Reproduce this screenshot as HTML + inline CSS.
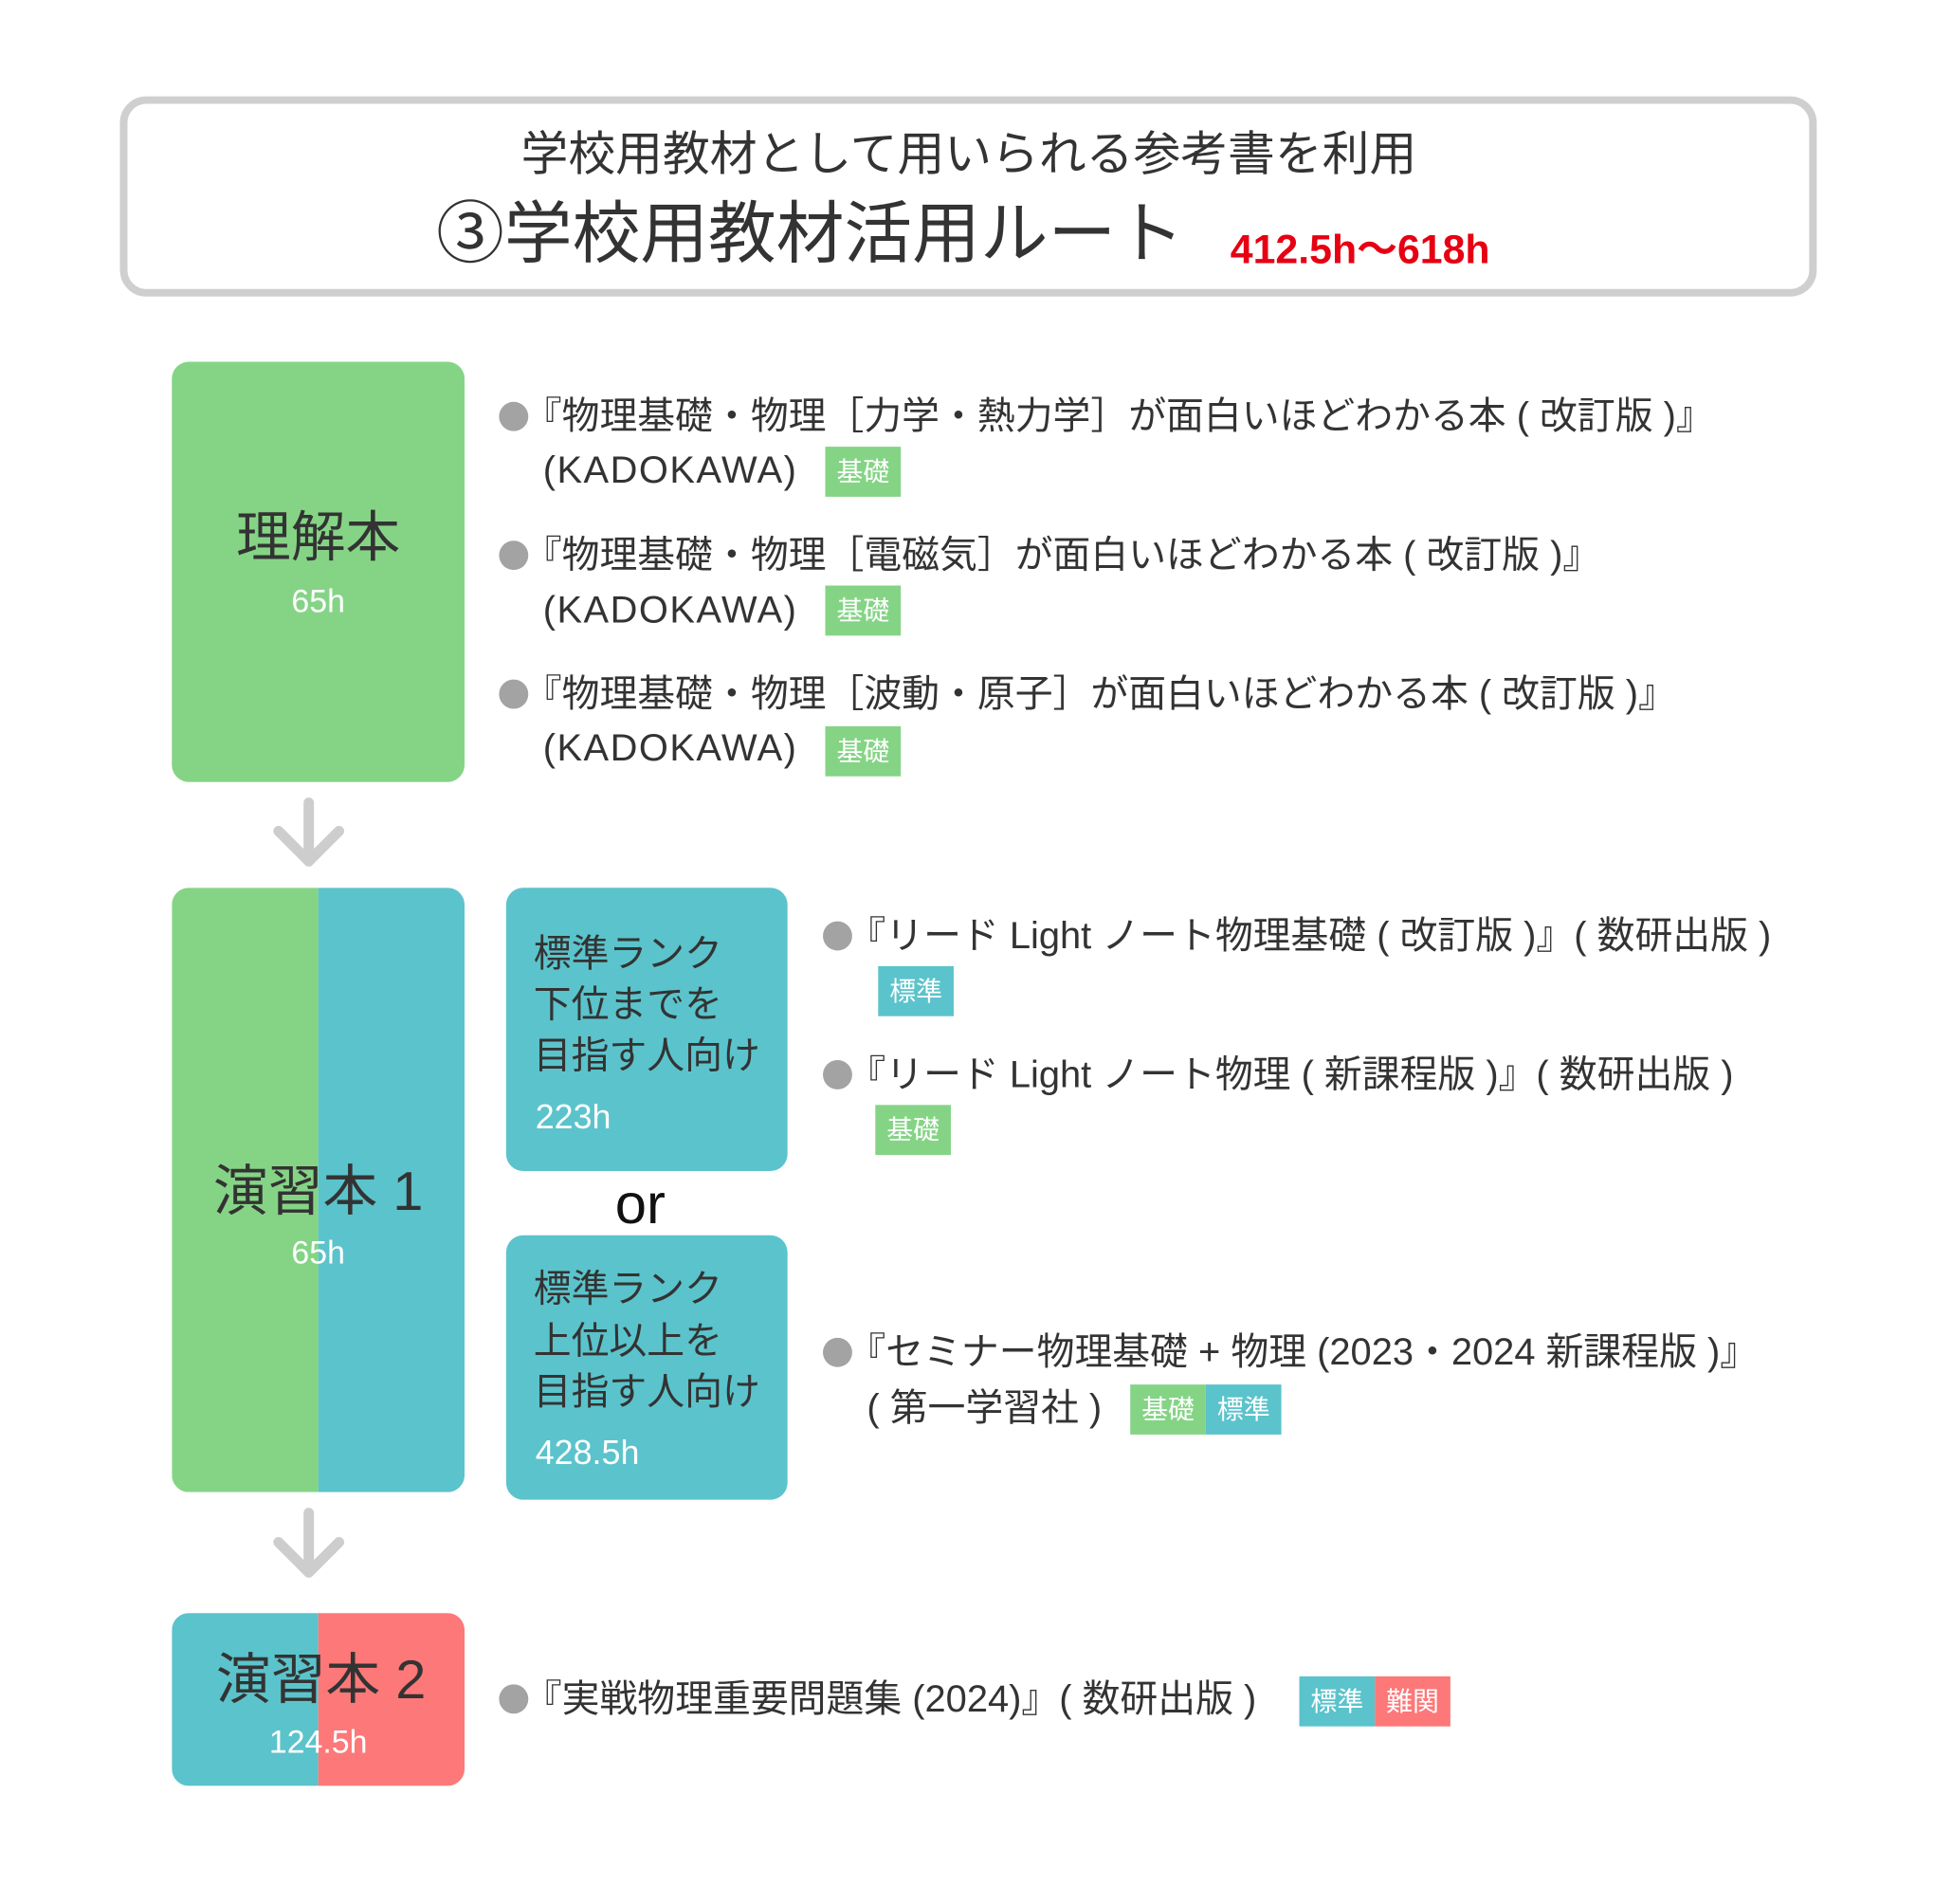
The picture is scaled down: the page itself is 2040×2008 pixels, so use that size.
<!DOCTYPE html>
<html><head><meta charset="utf-8"><style>
body{margin:0;width:2040px;height:2008px;background:#fff;position:relative;overflow:hidden;font-family:"Liberation Sans","Noto Sans CJK JP",sans-serif;color:#333}
#w{position:absolute;left:0;top:0;width:2040px;height:2008px;transform:scale(0.996);transform-origin:0 0}
.a{position:absolute}
.t{position:absolute;white-space:nowrap;line-height:1;transform:translateY(-50%)}
.c{position:absolute;white-space:nowrap;line-height:1;transform:translate(-50%,-50%)}
.dot{position:absolute;width:31px;height:31px;border-radius:50%;background:#a3a3a3;transform:translate(-50%,-50%)}
.bt{font-size:40px}
.bd{position:absolute;width:80px;height:53px;color:#fff;font-size:28px;text-align:center;line-height:53px}
.g{background:#85d486}.b{background:#5bc3cb}.r{background:#fd7878}
</style></head><body><div id="w">
<div class="a" style="left:127px;top:102px;width:1781px;height:196px;border:8px solid #cfcfcf;border-radius:28px"></div>
<div class="c" style="left:1026px;top:163px;font-size:50px">学校用教材として用いられる参考書を利用</div>
<div class="t" style="left:462px;top:248px;font-size:72px">③学校用教材活用ルート</div>
<div class="t" style="left:1303px;top:265px;font-size:43px;font-weight:bold;color:#e60012">412.5h〜618h</div>

<div class="a g" style="left:182px;top:383px;width:310px;height:445px;border-radius:18px"></div>
<div class="c" style="left:337px;top:570px;font-size:58px">理解本</div>
<div class="c" style="left:337px;top:637px;font-size:34px;color:#fff">65h</div>

<div class="dot" style="left:544px;top:441px"></div>
<div class="t bt" style="left:555px;top:441px">『物理基礎・物理［力学・熱力学］が面白いほどわかる本 ( 改訂版 )』</div>
<div class="t bt" style="left:575px;top:498px;letter-spacing:1.5px">(KADOKAWA)</div>
<div class="bd g" style="left:874px;top:473px">基礎</div>
<div class="dot" style="left:544px;top:588px"></div>
<div class="t bt" style="left:555px;top:588px">『物理基礎・物理［電磁気］が面白いほどわかる本 ( 改訂版 )』</div>
<div class="t bt" style="left:575px;top:646px;letter-spacing:1.5px">(KADOKAWA)</div>
<div class="bd g" style="left:874px;top:620px">基礎</div>
<div class="dot" style="left:544px;top:735px"></div>
<div class="t bt" style="left:555px;top:735px">『物理基礎・物理［波動・原子］が面白いほどわかる本 ( 改訂版 )』</div>
<div class="t bt" style="left:575px;top:792px;letter-spacing:1.5px">(KADOKAWA)</div>
<div class="bd g" style="left:874px;top:769px">基礎</div>

<svg class="a" style="left:0;top:0" width="2040" height="2008"><g stroke="#cdcdcd" stroke-width="11" fill="none" stroke-linecap="round" stroke-linejoin="round">
<path d="M327 850V912M295 880L327 912L359 880"/>
<path d="M327 1602V1665M295 1633L327 1665L359 1633"/></g></svg>

<div class="a" style="left:182px;top:940px;width:310px;height:640px;border-radius:18px;overflow:hidden"><div class="a g" style="left:0;top:0;width:155px;height:640px"></div><div class="a b" style="left:155px;top:0;width:155px;height:640px"></div></div>
<div class="c" style="left:337px;top:1262px;font-size:58px">演習本 1</div>
<div class="c" style="left:337px;top:1327px;font-size:34px;color:#fff">65h</div>

<div class="a b" style="left:536px;top:940px;width:298px;height:300px;border-radius:18px"></div>
<div class="t" style="left:565px;top:1010px;font-size:40px">標準ランク</div>
<div class="t" style="left:565px;top:1064px;font-size:40px">下位までを</div>
<div class="t" style="left:565px;top:1118px;font-size:40px">目指す人向け</div>
<div class="t" style="left:567px;top:1183px;font-size:36px;color:#fff">223h</div>
<div class="c" style="left:678px;top:1275px;font-size:60px;color:#111">or</div>
<div class="a b" style="left:536px;top:1308px;width:298px;height:280px;border-radius:18px"></div>
<div class="t" style="left:565px;top:1365px;font-size:40px">標準ランク</div>
<div class="t" style="left:565px;top:1420px;font-size:40px">上位以上を</div>
<div class="t" style="left:565px;top:1474px;font-size:40px">目指す人向け</div>
<div class="t" style="left:567px;top:1538px;font-size:36px;color:#fff">428.5h</div>

<div class="dot" style="left:887px;top:991px"></div>
<div class="t bt" style="left:898px;top:991px">『リード Light ノート物理基礎 ( 改訂版 )』( 数研出版 )</div>
<div class="bd b" style="left:930px;top:1023px">標準</div>
<div class="dot" style="left:887px;top:1138px"></div>
<div class="t bt" style="left:898px;top:1138px">『リード Light ノート物理 ( 新課程版 )』( 数研出版 )</div>
<div class="bd g" style="left:927px;top:1170px">基礎</div>
<div class="dot" style="left:887px;top:1432px"></div>
<div class="t bt" style="left:898px;top:1432px">『セミナー物理基礎 + 物理 (2023・2024 新課程版 )』</div>
<div class="t bt" style="left:918px;top:1491px">( 第一学習社 )</div>
<div class="bd g" style="left:1197px;top:1466px">基礎</div>
<div class="bd b" style="left:1277px;top:1466px">標準</div>

<div class="a" style="left:182px;top:1708px;width:310px;height:183px;border-radius:18px;overflow:hidden"><div class="a b" style="left:0;top:0;width:155px;height:183px"></div><div class="a r" style="left:155px;top:0;width:155px;height:183px"></div></div>
<div class="c" style="left:340px;top:1779px;font-size:58px">演習本 2</div>
<div class="c" style="left:337px;top:1845px;font-size:34px;color:#fff">124.5h</div>

<div class="dot" style="left:544px;top:1799px"></div>
<div class="t bt" style="left:555px;top:1799px">『実戦物理重要問題集 (2024)』( 数研出版 )</div>
<div class="bd b" style="left:1376px;top:1775px">標準</div>
<div class="bd r" style="left:1456px;top:1775px">難関</div>
</div></body></html>
